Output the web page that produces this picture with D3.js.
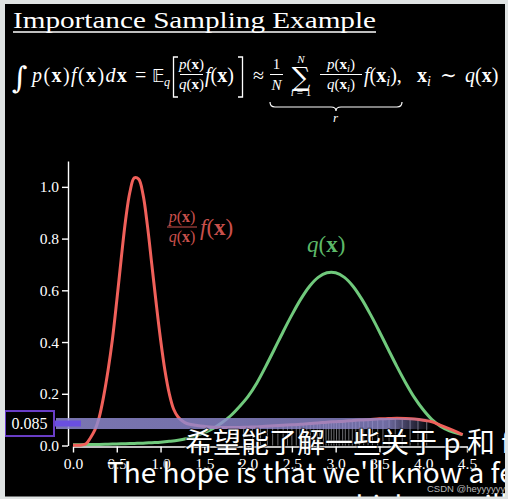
<!DOCTYPE html>
<html>
<head>
<meta charset="utf-8">
<script src="https://cdn.jsdelivr.net/npm/d3@7"></script>
<style>
html,body{margin:0;padding:0;background:#dfe3e3;}
svg{display:block;}
</style>
</head>
<body>
<svg id="chart" width="508" height="499"></svg>
<script>
// ---------------- data ----------------
const redX = [0,0.05,0.1,0.15,0.2,0.25,0.3,0.35,0.4,0.45,0.5,0.55,0.6,0.65,0.7,0.75,0.8,0.85,0.9,0.95,1.0,1.05,1.1,1.15,1.2,1.25,1.3,
  1.4,1.5,1.6,1.7,1.8,1.9,2.0,2.1,2.2,2.3,2.4,2.5,2.6,2.7,2.8,2.9,3.0,3.1,3.2,3.3,3.4,3.5,3.6,3.7,3.8,3.9,4.0,4.1,4.2,4.3,4.4,4.45];
const redY = [0.001,0.001,0.002,0.007,0.03,0.06,0.11,0.19,0.29,0.41,0.56,0.72,0.87,0.98,1.035,1.03,0.97,0.85,0.70,0.55,0.41,0.29,0.20,0.14,0.11,0.095,0.085,
  0.078,0.074,0.071,0.07,0.07,0.07,0.071,0.072,0.074,0.076,0.078,0.08,0.082,0.085,0.087,0.09,0.092,0.094,0.097,0.099,0.101,0.103,0.104,0.105,0.104,0.102,0.098,0.092,0.078,0.064,0.05,0.042];
const greenX = [0,0.1,0.2,0.3,0.4,0.5,0.6,0.7,0.8,0.9,1.0,1.1,1.2,1.3,1.4,1.5,1.6,1.7,1.8,1.9,2.0,2.1,2.2,2.3,2.4,2.5,2.6,2.7,2.8,2.9,3.0,3.1,3.2,3.3,3.4,3.5,3.6,3.7,3.8,3.9,4.0,4.1,4.2,4.3,4.4,4.45];
const greenY = [0.003,0.003,0.004,0.004,0.005,0.006,0.007,0.008,0.009,0.011,0.013,0.016,0.02,0.027,0.037,0.05,0.066,0.088,0.115,0.15,0.19,0.242,0.305,0.372,0.44,0.505,0.565,0.615,0.65,0.668,0.668,0.65,0.615,0.565,0.505,0.44,0.372,0.305,0.242,0.185,0.138,0.1,0.074,0.057,0.046,0.042];
const sampleX = [1.86,1.95,2.05,2.14,2.22,2.28,2.34,2.4,2.45,2.5,2.55,2.59,2.63,2.67,2.71,2.75,2.79,2.82,2.86,2.89,2.92,2.95,2.98,3.01,3.04,3.08,3.11,3.15,3.19,3.23,3.27,3.32,3.37,3.42,3.48,3.54,3.61,3.68,3.76,3.85,3.94,4.04];
const estimate = 0.085;
const xTicks = [0,0.5,1,1.5,2,2.5,3,3.5,4,4.5];
const yTicks = [0,0.2,0.4,0.6,0.8,1.0];

const svg = d3.select("#chart");
const SERIF = "'Liberation Serif', 'DejaVu Serif', serif";
const RED = "#f0605a", GREEN = "#70c97c";

// background
svg.append("rect").attr("x",0).attr("y",0).attr("width",508).attr("height",499).attr("fill","#000");

// scales
const x = d3.scaleLinear().domain([0,4.5]).range([73,467]);
const y = d3.scaleLinear().domain([0,1.1]).range([445.5,161]);

// axes
const yAxis = svg.append("g").attr("transform","translate(68,0)")
  .call(d3.axisLeft(y).tickValues(yTicks).tickFormat(d3.format(".1f")).tickSize(6).tickSizeOuter(0).tickPadding(3));
const xAxis = svg.append("g").attr("transform","translate(0,446.5)")
  .call(d3.axisBottom(x).tickValues(xTicks).tickFormat(d3.format(".1f")).tickSize(6).tickSizeOuter(0).tickPadding(5));
[yAxis,xAxis].forEach(g=>{
  g.selectAll("path,line").attr("stroke","#fff").attr("stroke-width",1.4);
  g.selectAll("text").attr("fill","#fff").attr("font-family",SERIF).attr("font-size",15.5);
});

// rug of samples (up to the red curve)
const redInterp = d3.scaleLinear().domain(redX).range(redY);
svg.append("g").selectAll("line").data(sampleX).join("line")
  .attr("x1",d=>x(d)).attr("x2",d=>x(d))
  .attr("y1",y(0)).attr("y2",d=>y(redInterp(d)))
  .attr("stroke","#c8c8d0").attr("stroke-opacity",0.55).attr("stroke-width",1);

// curves
const line = d3.line().x(d=>x(d[0])).y(d=>y(d[1])).curve(d3.curveCatmullRom);
svg.append("path").datum(d3.zip(greenX,greenY)).attr("d",line)
  .attr("fill","none").attr("stroke",GREEN).attr("stroke-width",3);
svg.append("path").datum(d3.zip(redX,redY)).attr("d",line)
  .attr("fill","none").attr("stroke",RED).attr("stroke-width",3);

// estimate band
const defs = svg.append("defs");
const grad = defs.append("linearGradient").attr("id","bandGrad");
grad.append("stop").attr("offset","0%").attr("stop-color","#8f8ad0").attr("stop-opacity",0.85);
grad.append("stop").attr("offset","88%").attr("stop-color","#8f8ad0").attr("stop-opacity",0.78);
grad.append("stop").attr("offset","100%").attr("stop-color","#8f8ad0").attr("stop-opacity",0);
svg.append("rect").attr("x",x(0)-17).attr("y",y(estimate)-5.5)
  .attr("width",x(4.1)-(x(0)-17)).attr("height",11).attr("fill","url(#bandGrad)");
svg.append("rect").attr("x",x(0)-19).attr("y",y(estimate)-3)
  .attr("width",27).attr("height",6).attr("fill","#6a4fe0");
// value box
svg.append("rect").attr("x",5).attr("y",y(estimate)-12.5).attr("width",49).attr("height",25)
  .attr("fill","#000").attr("stroke","#6a3ec8").attr("stroke-width",2);
svg.append("text").attr("x",29.5).attr("y",y(estimate)+5).attr("text-anchor","middle")
  .attr("font-family",SERIF).attr("font-size",16).attr("fill","#fff").text(d3.format(".3f")(estimate));

// ---------- text helpers ----------
function mtext(px,py,size,parts,opt={}){
  const t = svg.append("text").attr("x",px).attr("y",py).attr("font-family",SERIF)
    .attr("font-size",size).attr("fill",opt.fill||"#fff");
  if(opt.anchor) t.attr("text-anchor",opt.anchor);
  if(opt.ls) t.attr("letter-spacing",opt.ls);
  let shifted=false;
  parts.forEach(([s,st])=>{
    const ts=t.append("tspan").text(s);
    if(st.includes("i")) ts.attr("font-style","italic");
    if(st.includes("b")) ts.attr("font-weight","bold");
    if(st.includes("s")){ ts.attr("font-size",size*0.7).attr("dy",size*0.22); shifted=true; }
    else if(shifted){ ts.attr("dy",-size*0.22); shifted=false; }
  });
  return t;
}
const px = [["p","i"],["(","n"],["x","b"],[")","n"]];
const qx = [["q","i"],["(","n"],["x","b"],[")","n"]];
const fx = [["f","i"],["(","n"],["x","b"],[")","n"]];
const pxi = [["p","i"],["(","n"],["x","b"],["i","is"],[")","n"]];
const qxi = [["q","i"],["(","n"],["x","b"],["i","is"],[")","n"]];

// title
svg.append("text").attr("x",13).attr("y",28).attr("font-family",SERIF).attr("font-size",22.5)
  .attr("fill","#fff").attr("textLength",363).attr("lengthAdjust","spacingAndGlyphs")
  .text("Importance Sampling Example");
svg.append("line").attr("x1",13).attr("x2",376).attr("y1",32).attr("y2",32).attr("stroke","#fff").attr("stroke-width",1.3);

// formula
const FS = 20;
svg.append("text").attr("x",12).attr("y",88).attr("font-family","'DejaVu Serif', serif").attr("font-size",30)
  .attr("fill","#fff").text("∫");
mtext(32,82,FS,[...px,...fx,["d","i"],["x","b"]],{ls:1.4});
mtext(135,82,FS,[["=","n"]]);
svg.append("text").attr("x",152).attr("y",82).attr("font-family","'DejaVu Sans', sans-serif").attr("font-size",17).attr("fill","#fff").text("𝔼");
mtext(164,86,12,[["q","i"]]);
svg.append("path").attr("d","M178,57H173.5V97H178M238,57H242.5V97H238").attr("fill","none").attr("stroke","#fff").attr("stroke-width",1.3);
mtext(191.5,69,15,px,{anchor:"middle"});
svg.append("line").attr("x1",180).attr("x2",203).attr("y1",74.5).attr("y2",74.5).attr("stroke","#fff").attr("stroke-width",1);
mtext(191.5,89,15,qx,{anchor:"middle"});
mtext(205,82,FS,fx);
mtext(253,82,FS,[["≈","n"]]);
mtext(276.5,69,15,[["1","n"]],{anchor:"middle"});
svg.append("line").attr("x1",270).attr("x2",283).attr("y1",74.5).attr("y2",74.5).attr("stroke","#fff").attr("stroke-width",1);
mtext(276.5,90,15,[["N","i"]],{anchor:"middle"});
svg.append("text").attr("x",301).attr("y",86).attr("text-anchor","middle").attr("font-family","'DejaVu Serif', serif").attr("font-size",26).attr("fill","#fff").text("∑");
mtext(301,63,11,[["N","i"]],{anchor:"middle"});
mtext(301,96,11,[["i","i"],[" = 1","n"]],{anchor:"middle"});
mtext(341,69,15,pxi,{anchor:"middle"});
svg.append("line").attr("x1",320).attr("x2",362).attr("y1",74.5).attr("y2",74.5).attr("stroke","#fff").attr("stroke-width",1);
mtext(341,89,15,qxi,{anchor:"middle"});
mtext(364,82,FS,[["f","i"],["(","n"],["x","b"],["i","is"],[")","n"],[",","n"]]);
mtext(417,82,FS,[["x","b"],["i","is"]]);
mtext(440,82,FS,[["∼","n"]]);
mtext(465,82,FS,qx);
svg.append("path").attr("d","M270,102Q270,107 275,107H331Q336,107 336,111Q336,107 341,107H397Q402,107 402,102")
  .attr("fill","none").attr("stroke","#fff").attr("stroke-width",1.2);
mtext(333,122,13,[["r","i"]]);

// curve labels
const RLAB = "#c9504c", GLAB = "#5cb868";
mtext(182,222,16,px,{anchor:"middle",fill:RLAB});
svg.append("line").attr("x1",167).attr("x2",197).attr("y1",227).attr("y2",227).attr("stroke",RLAB).attr("stroke-width",1);
mtext(182,242,16,qx,{anchor:"middle",fill:RLAB});
mtext(200,235,23,fx,{fill:RLAB});
mtext(307,252,23,qx,{fill:GLAB});

// subtitles (video captions)
const CJK = "'Noto Sans CJK SC', 'Noto Sans', sans-serif";
function sub(txt,sx,sy){
  svg.append("text").attr("x",sx).attr("y",sy).attr("font-family",CJK).attr("font-size",28)
    .attr("fill","#fff").attr("stroke","rgba(0,0,0,0.55)").attr("stroke-width",2)
    .attr("paint-order","stroke").text(txt);
}
sub("希望能了解一些关于 p 和 f",185,453);
sub("The hope is that we'll know a few",107,483);
sub("which we will know",333,516);
svg.append("text").attr("x",427).attr("y",492).attr("font-family","'Liberation Sans', sans-serif")
  .attr("font-size",9.5).attr("fill","#b8b8b8").text("CSDN @heyyyyyyi");

// frame
svg.append("path").attr("fill","#dfe3e3").attr("fill-rule","evenodd")
  .attr("d","M0,0H508V499H0Z M5,4V496.5H505V4Z");
</script>
</body>
</html>
